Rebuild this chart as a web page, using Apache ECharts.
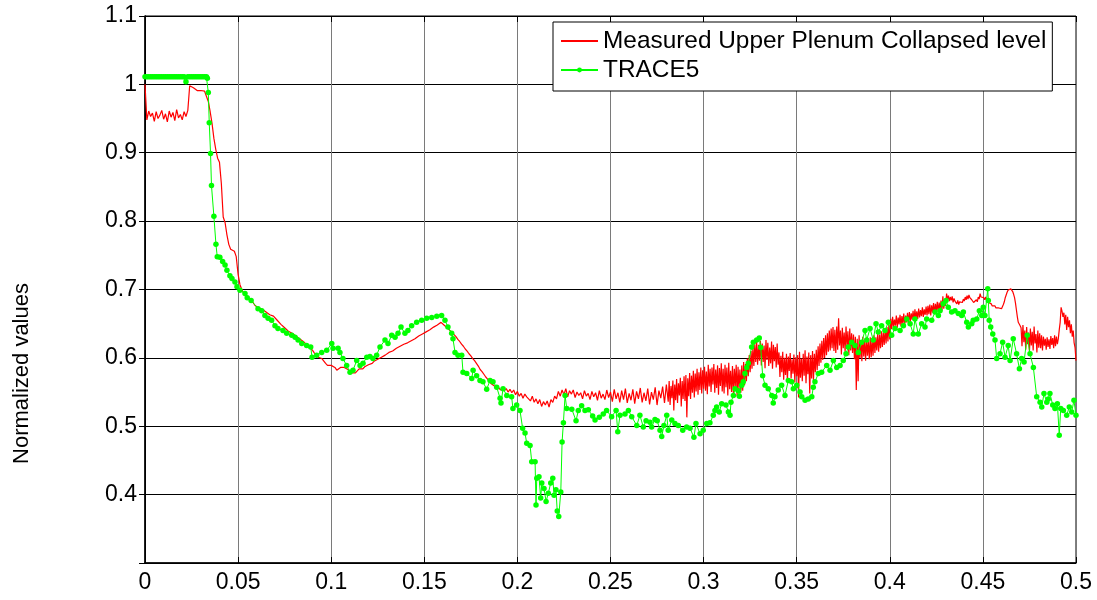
<!DOCTYPE html>
<html>
<head>
<meta charset="utf-8">
<script src="https://cdn.jsdelivr.net/npm/echarts@6/dist/echarts.min.js"></script>
<style>
  html, body { margin: 0; padding: 0; background: #fff; }
  #chart { width: 1097px; height: 600px; }
</style>
</head>
<body>
<div id="chart"></div>
<script>
// Measured collapsed level: 1 ms samples from t = 0 to t = 0.28
const measuredCoarseStart = 0;
const measuredCoarseStep = 0.001;
const measuredCoarse = [
  1.000,0.948,0.961,0.953,0.958,0.946,0.960,0.950,0.955,0.962,
  0.949,0.957,0.945,0.961,0.952,0.959,0.947,0.963,0.951,0.956,
  0.948,0.960,0.953,0.962,0.998,0.999,0.995,0.993,0.991,0.993,
  0.991,0.993,0.990,0.988,0.975,0.960,0.943,0.921,0.905,0.892,
  0.886,0.855,0.806,0.798,0.780,0.766,0.759,0.757,0.756,0.748,
  0.722,0.707,0.700,0.695,0.692,0.689,0.686,0.684,0.681,0.677,
  0.676,0.673,0.675,0.671,0.669,0.667,0.666,0.663,0.663,0.661,
  0.659,0.655,0.654,0.649,0.647,0.644,0.643,0.639,0.638,0.636,
  0.635,0.632,0.632,0.628,0.627,0.624,0.622,0.619,0.618,0.614,
  0.611,0.607,0.604,0.601,0.600,0.599,0.598,0.592,0.589,0.590,
  0.589,0.588,0.586,0.582,0.584,0.586,0.587,0.586,0.585,0.583,
  0.581,0.578,0.577,0.578,0.580,0.584,0.585,0.584,0.587,0.589,
  0.590,0.592,0.592,0.595,0.596,0.598,0.599,0.601,0.603,0.604,
  0.606,0.608,0.609,0.610,0.612,0.614,0.615,0.617,0.617,0.620,
  0.621,0.622,0.624,0.625,0.627,0.628,0.630,0.632,0.633,0.635,
  0.636,0.638,0.639,0.641,0.643,0.645,0.646,0.648,0.650,0.652,
  0.650,0.647,0.645,0.642,0.641,0.637,0.634,0.631,0.627,0.624,
  0.620,0.617,0.613,0.610,0.606,0.603,0.599,0.596,0.592,0.588,
  0.583,0.580,0.576,0.572,0.569,0.565,0.562,0.560,0.558,0.557,
  0.556,0.553,0.557,0.552,0.555,0.550,0.554,0.549,0.553,0.546,
  0.551,0.544,0.548,0.541,0.547,0.543,0.545,0.537,0.544,0.535,
  0.540,0.533,0.539,0.529,0.536,0.531,0.537,0.528,0.539,0.535,
  0.544,0.540,0.551,0.544,0.553,0.546,0.555,0.543,0.552,0.547,
  0.553,0.542,0.550,0.545,0.549,0.540,0.552,0.544,0.548,0.539,
  0.551,0.543,0.549,0.538,0.552,0.541,0.547,0.539,0.553,0.542,
  0.550,0.536,0.554,0.540,0.549,0.535,0.552,0.539,0.555,0.534,
  0.548,0.538,0.554,0.533,0.551,0.540,0.556,0.535,0.549,0.537,
  0.555,0.532,0.550,0.539,0.557,0.531,0.552,0.541,0.558,0.534,
  0.561
];

// Measured collapsed level: 0.5 ms samples from t = 0.2805 to t = 0.5
const measuredFineStart = 0.2805;
const measuredFineStep = 0.0005;
const measuredFine = [
  0.562,0.536,0.566,0.531,0.559,0.541,0.567,0.523,0.561,0.538,0.569,0.534,0.563,0.545,0.571,0.529,0.566,0.540,0.573,0.537,
  0.575,0.513,0.570,0.544,0.578,0.540,0.574,0.549,0.581,0.542,0.577,0.551,0.584,0.546,0.579,0.553,0.586,0.548,0.582,0.555,
  0.587,0.552,0.580,0.547,0.590,0.558,0.584,0.550,0.586,0.561,0.591,0.549,0.583,0.556,0.589,0.546,0.585,0.559,0.592,0.551,
  0.584,0.548,0.590,0.557,0.586,0.545,0.593,0.554,0.581,0.550,0.588,0.547,0.584,0.558,0.590,0.544,0.587,0.553,0.583,0.549,
  0.589,0.552,0.594,0.560,0.591,0.566,0.599,0.573,0.604,0.579,0.610,0.584,0.616,0.588,0.620,0.594,0.623,0.590,0.619,0.596,
  0.625,0.589,0.621,0.594,0.618,0.585,0.626,0.597,0.622,0.588,0.615,0.592,0.624,0.584,0.619,0.595,0.616,0.586,0.621,0.590,
  0.608,0.572,0.603,0.579,0.609,0.568,0.600,0.575,0.606,0.566,0.602,0.581,0.607,0.570,0.598,0.577,0.605,0.564,0.601,0.573,
  0.604,0.542,0.609,0.571,0.599,0.566,0.606,0.574,0.611,0.563,0.602,0.576,0.608,0.548,0.604,0.570,0.610,0.567,0.606,0.579,
  0.612,0.582,0.617,0.588,0.621,0.593,0.625,0.597,0.629,0.600,0.633,0.604,0.636,0.609,0.640,0.611,0.643,0.614,0.645,0.610,
  0.641,0.607,0.646,0.612,0.658,0.618,0.640,0.605,0.644,0.614,0.637,0.609,0.646,0.616,0.639,0.604,0.643,0.611,0.636,0.607,
  0.634,0.598,0.631,0.553,0.628,0.566,0.633,0.600,0.626,0.595,0.631,0.602,0.625,0.596,0.629,0.603,0.624,0.598,0.630,0.601,
  0.627,0.603,0.633,0.607,0.630,0.611,0.636,0.609,0.634,0.614,0.639,0.616,0.637,0.619,0.642,0.621,0.645,0.624,0.648,0.627,
  0.657,0.642,0.660,0.645,0.656,0.647,0.662,0.644,0.659,0.649,0.663,0.646,0.661,0.650,0.665,0.648,0.662,0.652,0.666,0.651,
  0.667,0.653,0.665,0.656,0.669,0.654,0.671,0.658,0.668,0.657,0.672,0.659,0.670,0.661,0.674,0.660,0.671,0.663,0.675,0.662,
  0.676,0.664,0.678,0.662,0.677,0.666,0.680,0.665,0.679,0.668,0.682,0.667,0.681,0.670,0.684,0.669,0.690,0.672,0.686,0.676,
  0.694,0.685,0.691,0.683,0.689,0.684,0.690,0.681,0.687,0.683,0.685,0.679,0.684,0.678,0.682,0.680,0.684,0.681,0.686,0.683,
  0.689,0.685,0.691,0.686,0.692,0.688,0.690,0.685,0.686,0.681,0.683,0.680,0.685,0.682,0.689,0.686,0.694,0.689,0.691,0.688,
  0.688,0.685,0.689,0.684,0.685,0.681,0.682,0.679,0.679,0.676,0.677,0.675,0.676,0.673,0.674,0.672,0.673,0.671,0.672,0.672,
  0.674,0.678,0.682,0.688,0.692,0.696,0.699,0.700,0.701,0.701,0.699,0.697,0.693,0.688,0.680,0.670,0.660,0.652,0.650,0.647,
  0.644,0.617,0.648,0.623,0.640,0.612,0.645,0.620,0.637,0.609,0.643,0.618,0.638,0.611,0.646,0.621,0.635,0.608,0.640,0.615,
  0.636,0.614,0.633,0.611,0.631,0.618,0.628,0.612,0.630,0.616,0.627,0.613,0.632,0.619,0.629,0.614,0.633,0.617,0.631,0.620,
  0.628,0.641,0.652,0.674,0.668,0.660,0.666,0.649,0.663,0.641,0.660,0.645,0.655,0.636,0.649,0.631,0.640,0.622,0.615,0.596
];

// TRACE5 output times and values
const traceTime = [
  0.000,0.001,0.002,0.003,0.004,0.005,0.006,0.007,0.008,0.009,
  0.010,0.011,0.012,0.013,0.014,0.015,0.016,0.017,0.018,0.019,
  0.020,0.021,0.022,0.023,0.024,0.025,0.026,0.027,0.028,0.029,
  0.030,0.031,0.032,0.033,0.0335,0.0340,0.0345,0.0352,0.0357,0.0370,
  0.0381,0.0388,0.0402,0.0417,0.0430,0.0440,0.0456,0.0467,0.0483,0.0494,
  0.0510,0.0537,0.0549,0.0570,0.0607,0.0627,0.0644,0.0661,0.0680,0.0698,
  0.0714,0.0741,0.0761,0.0788,0.0806,0.0822,0.0842,0.0868,0.0890,0.0897,
  0.0922,0.0949,0.0976,0.1003,0.1010,0.1037,0.1047,0.1063,0.1083,0.1101,
  0.1117,0.1137,0.1155,0.1171,0.1191,0.1208,0.1224,0.1244,0.1262,0.1289,
  0.1305,0.1325,0.1343,0.1359,0.1375,0.1396,0.1412,0.1432,0.1459,0.1486,
  0.1513,0.1540,0.1567,0.1593,0.1611,0.1627,0.1647,0.1654,0.1665,0.1681,
  0.1701,0.1708,0.1728,0.1755,0.1762,0.1781,0.1799,0.1815,0.1835,0.1853,
  0.1869,0.1889,0.1907,0.1912,0.1923,0.1943,0.1969,0.1976,0.1996,0.2014,
  0.2028,0.2041,0.2050,0.2068,0.2077,0.2095,0.2100,0.2104,0.2116,0.2125,
  0.2131,0.2143,0.2154,0.2166,0.2179,0.2190,0.2197,0.2207,0.2214,0.2222,
  0.2233,0.2240,0.2247,0.2256,0.2265,0.2292,0.2315,0.2327,0.2345,0.2363,
  0.2381,0.2404,0.2417,0.2440,0.2461,0.2479,0.2506,0.2530,0.2539,0.2551,
  0.2578,0.2596,0.2614,0.2641,0.2658,0.2676,0.2691,0.2712,0.2721,0.2739,
  0.2751,0.2766,0.2775,0.2787,0.2802,0.2810,0.2829,0.2846,0.2864,0.2888,
  0.2909,0.2927,0.2948,0.2959,0.2981,0.2998,0.3017,0.3034,0.3052,0.3061,
  0.3070,0.3084,0.3097,0.3120,0.3133,0.3142,0.3147,0.3160,0.3169,0.3186,
  0.3192,0.3205,0.3213,0.3222,0.3232,0.3240,0.3258,0.3267,0.3285,0.3299,
  0.3307,0.3317,0.3330,0.3347,0.3366,0.3374,0.3383,0.3401,0.3419,0.3437,
  0.3455,0.3473,0.3482,0.3500,0.3518,0.3527,0.3545,0.3562,0.3581,0.3589,
  0.3598,0.3616,0.3634,0.3661,0.3679,0.3697,0.3715,0.3733,0.3750,0.3765,
  0.3777,0.3795,0.3813,0.3831,0.3849,0.3867,0.3876,0.3894,0.3911,0.3926,
  0.3938,0.3956,0.3974,0.3992,0.4010,0.4028,0.4055,0.4073,0.4091,0.4109,
  0.4126,0.4135,0.4153,0.4171,0.4189,0.4198,0.4225,0.4243,0.4261,0.4270,
  0.4287,0.4302,0.4314,0.4332,0.4350,0.4368,0.4386,0.4395,0.4413,0.4422,
  0.4440,0.4448,0.4467,0.4481,0.4494,0.4502,0.4511,0.4526,0.4529,0.4534,
  0.4542,0.4553,0.4565,0.4574,0.4592,0.4606,0.4619,0.4636,0.4646,0.4663,
  0.4681,0.4696,0.4708,0.4721,0.4738,0.4753,0.4771,0.4789,0.4807,0.4816,
  0.4828,0.4843,0.4851,0.4860,0.4875,0.4887,0.4900,0.4910,0.4918,0.4932,
  0.4950,0.4964,0.4977,0.4989,0.5000
];
const traceValue = [
  1.011,1.011,1.011,1.011,1.011,1.011,1.011,1.011,1.011,1.011,
  1.011,1.011,1.011,1.011,1.011,1.011,1.011,1.011,1.011,1.011,
  1.011,1.011,1.004,1.011,1.011,1.011,1.011,1.011,1.011,1.011,
  1.011,1.011,1.011,1.011,1.009,0.988,0.944,0.899,0.852,0.807,
  0.766,0.748,0.747,0.741,0.736,0.728,0.720,0.716,0.711,0.704,
  0.699,0.694,0.688,0.684,0.672,0.669,0.662,0.658,0.655,0.647,
  0.643,0.640,0.636,0.633,0.630,0.626,0.621,0.618,0.616,0.601,
  0.604,0.608,0.611,0.621,0.614,0.614,0.608,0.599,0.589,0.579,
  0.582,0.596,0.589,0.592,0.601,0.602,0.599,0.604,0.616,0.626,
  0.621,0.633,0.630,0.636,0.645,0.636,0.640,0.647,0.652,0.655,
  0.658,0.659,0.661,0.662,0.655,0.645,0.636,0.628,0.608,0.604,
  0.604,0.579,0.577,0.570,0.582,0.574,0.567,0.565,0.554,0.567,
  0.565,0.557,0.541,0.534,0.555,0.545,0.543,0.526,0.531,0.523,
  0.497,0.490,0.475,0.472,0.448,0.448,0.385,0.424,0.426,0.395,
  0.417,0.409,0.390,0.402,0.417,0.424,0.399,0.407,0.376,0.368,
  0.404,0.477,0.505,0.545,0.526,0.525,0.508,0.523,0.530,0.523,
  0.524,0.515,0.509,0.513,0.518,0.523,0.514,0.523,0.492,0.516,
  0.518,0.523,0.514,0.501,0.516,0.499,0.508,0.506,0.499,0.510,
  0.508,0.494,0.485,0.501,0.516,0.494,0.509,0.504,0.501,0.494,
  0.499,0.497,0.484,0.504,0.489,0.494,0.504,0.505,0.516,0.523,
  0.528,0.521,0.533,0.531,0.521,0.516,0.535,0.545,0.555,0.552,
  0.544,0.560,0.565,0.577,0.586,0.592,0.616,0.623,0.626,0.629,
  0.615,0.574,0.560,0.555,0.545,0.534,0.543,0.553,0.560,0.545,
  0.567,0.565,0.555,0.560,0.550,0.543,0.538,0.540,0.543,0.557,
  0.565,0.577,0.579,0.589,0.582,0.596,0.586,0.589,0.596,0.606,
  0.616,0.623,0.618,0.608,0.623,0.640,0.626,0.643,0.626,0.650,
  0.638,0.647,0.640,0.652,0.633,0.643,0.640,0.647,0.657,0.650,
  0.635,0.657,0.635,0.650,0.645,0.657,0.655,0.667,0.662,0.669,
  0.679,0.684,0.674,0.667,0.669,0.665,0.662,0.667,0.652,0.645,
  0.650,0.655,0.657,0.669,0.662,0.674,0.662,0.701,0.684,0.655,
  0.645,0.635,0.626,0.599,0.606,0.623,0.601,0.618,0.596,0.628,
  0.606,0.584,0.599,0.594,0.633,0.606,0.586,0.543,0.535,0.528,
  0.548,0.535,0.540,0.548,0.531,0.526,0.533,0.487,0.526,0.523,
  0.516,0.528,0.521,0.538,0.516
];

// Axis ticks
const xTicks = [0, 0.05, 0.1, 0.15, 0.2, 0.25, 0.3, 0.35, 0.4, 0.45, 0.5];
const yTicks = [0.3, 0.4, 0.5, 0.6, 0.7, 0.8, 0.9, 1.0, 1.1];
const yLabelled = [0.4, 0.5, 0.6, 0.7, 0.8, 0.9, 1.0, 1.1];

const measuredSeries = measuredCoarse
  .map((v, i) => [measuredCoarseStart + i * measuredCoarseStep, v])
  .concat(measuredFine.map((v, i) => [measuredFineStart + i * measuredFineStep, v]));
const traceSeries = traceTime.map((t, i) => [t, traceValue[i]]);

const FONT = '"Liberation Sans", Arial, sans-serif';
const chart = echarts.init(document.getElementById('chart'), null, { renderer: 'canvas' });

const fmt = v => String(Math.round(v * 100) / 100);
const isTick = (list, v) => list.some(t => Math.abs(t - v) < 1e-9);

chart.setOption({
  animation: false,
  backgroundColor: '#ffffff',
  textStyle: { fontFamily: FONT },
  grid: {
    left: 145, right: 21, top: 16, bottom: 37,
    show: true, borderColor: '#000', borderWidth: 1, backgroundColor: '#fff'
  },
  legend: {
    left: 553, top: 22,
    orient: 'vertical',
    backgroundColor: '#fff',
    borderColor: '#000',
    borderWidth: 1,
    borderRadius: 0,
    padding: [6, 6, 8, 7],
    itemGap: 3,
    itemWidth: 37,
    itemHeight: 6,
    textStyle: { fontFamily: FONT, fontSize: 24.4, color: '#000', lineHeight: 26 },
    data: [
      // plain line key, no marker
      { name: 'Measured Upper Plenum Collapsed level', itemStyle: { color: 'rgba(0,0,0,0)' } },
      { name: 'TRACE5' }
    ]
  },
  xAxis: [{
    type: 'value', min: 0, max: 0.5, interval: 0.05,
    axisLine: { show: true, onZero: false, lineStyle: { color: '#000', width: 1.5 } },
    axisTick: { show: true, inside: true, length: 6, lineStyle: { color: '#000' } },
    axisLabel: {
      fontFamily: FONT, fontSize: 23, color: '#000', margin: 8,
      formatter: v => isTick(xTicks, v) ? fmt(v) : ''
    },
    splitLine: { show: true, lineStyle: { color: '#7a7a7a', width: 1 } }
  }, {
    type: 'value', min: 0, max: 0.5, interval: 0.05, position: 'top',
    axisLine: { show: true, lineStyle: { color: '#000', width: 1 } },
    axisTick: { show: true, inside: true, length: 6, lineStyle: { color: '#000' } },
    axisLabel: { show: false }, splitLine: { show: false }
  }],
  yAxis: [{
    type: 'value', min: 0.3, max: 1.1, interval: 0.1,
    name: 'Normalized values',
    nameLocation: 'middle',
    nameGap: 112,
    nameRotate: 90,
    nameTextStyle: { fontFamily: FONT, fontSize: 22, color: '#000', padding: [0, 168, 0, 0] },
    axisLine: { show: true, onZero: false, lineStyle: { color: '#000', width: 1.5 } },
    axisTick: { show: true, inside: true, length: 6, lineStyle: { color: '#000' } },
    axisLabel: {
      fontFamily: FONT, fontSize: 23, color: '#000', margin: 8,
      formatter: v => isTick(yLabelled, v) ? fmt(v) : ''
    },
    splitLine: { show: true, lineStyle: { color: '#000', width: 1 } }
  }, {
    type: 'value', min: 0.3, max: 1.1, interval: 0.1, position: 'right',
    axisLine: { show: true, lineStyle: { color: '#000', width: 1 } },
    axisTick: { show: true, inside: true, length: 6, lineStyle: { color: '#000' } },
    axisLabel: { show: false }, splitLine: { show: false }
  }],
  series: [{
    name: 'Measured Upper Plenum Collapsed level',
    type: 'line',
    data: measuredSeries,
    symbol: 'none',
    lineStyle: { color: '#ff0000', width: 1.2 },
    itemStyle: { color: '#ff0000' },
    z: 2
  }, {
    name: 'TRACE5',
    type: 'line',
    data: traceSeries,
    symbol: 'circle',
    symbolSize: 5.5,
    showSymbol: true,
    lineStyle: { color: '#00ff00', width: 1 },
    itemStyle: { color: '#00ff00' },
    z: 3
  }]
});
</script>
</body>
</html>
